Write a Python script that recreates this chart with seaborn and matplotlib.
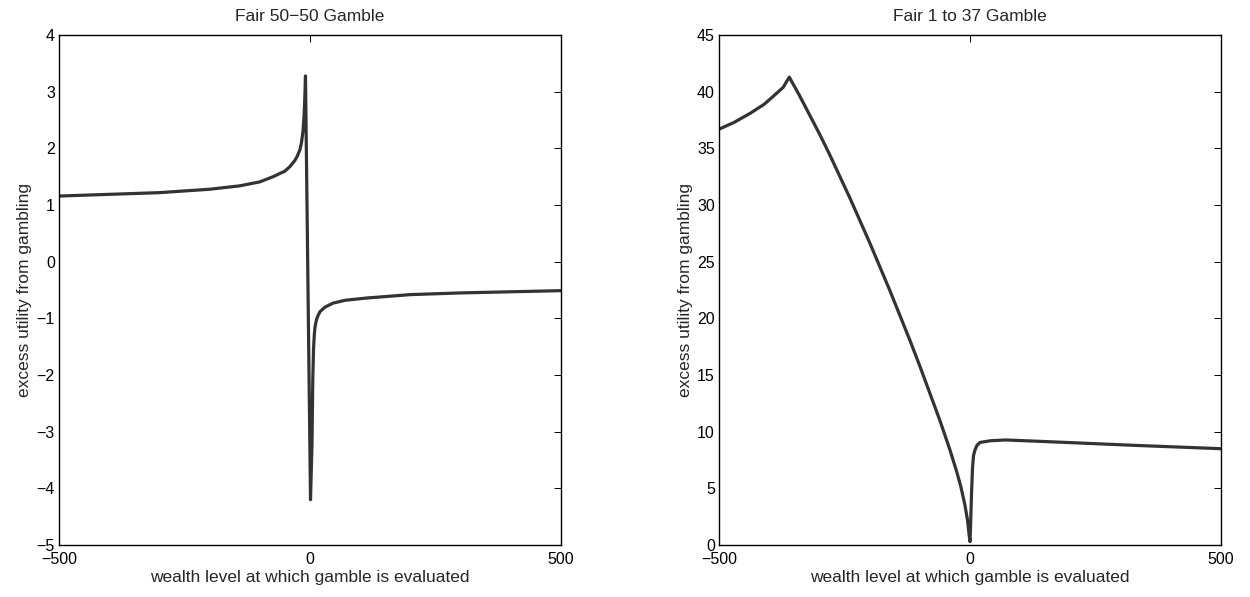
import pandas as pd
import seaborn as sns
import matplotlib.pyplot as plt

# values
# left panel: fair 50-50 gamble
wealth_5050 = [-500, -400, -300, -200, -140, -100, -74, -50, -40, -30, -25, -20, -17, -14, -12, -10.5, -9,
               1, 4, 5.5, 7, 8.5, 10, 13, 16, 20, 30, 46, 70, 113, 200, 300, 400, 500]
excess_5050 = [1.16, 1.19, 1.22, 1.28, 1.34, 1.41, 1.50, 1.60, 1.68, 1.79, 1.87, 1.98, 2.10, 2.30, 2.55, 2.85, 3.28,
               -4.20, -3.20, -2.10, -1.55, -1.30, -1.15, -1.02, -0.95, -0.88, -0.80, -0.73, -0.68, -0.64,
               -0.58, -0.55, -0.53, -0.51]

# right panel: fair 1 to 37 gamble
wealth_137 = [-500, -470, -438, -410, -392, -372, -360, -340, -320, -300, -280, -260, -240, -220, -200,
              -180, -160, -140, -120, -100, -80, -60, -40, -26, -18, -10, -5, -2, 0,
              1, 3, 5, 7, 10, 14, 20, 40, 70, 100, 193, 325, 500]
excess_137 = [36.7, 37.3, 38.1, 38.9, 39.6, 40.4, 41.3, 39.7, 38.0, 36.3, 34.5, 32.6, 30.7, 28.7, 26.7,
              24.6, 22.5, 20.3, 18.1, 15.8, 13.4, 11.0, 8.4, 6.4, 5.1, 3.5, 2.2, 1.0, 0.3,
              1.5, 4.5, 6.8, 7.9, 8.4, 8.8, 9.05, 9.2, 9.27, 9.22, 9.05, 8.8, 8.5]

titles = ['Fair 50\u221250 Gamble', 'Fair 1 to 37 Gamble']
xlabel = 'wealth level at which gamble is evaluated'
ylabel = 'excess utility from gambling'

sns.set_style("white")
plt.rcParams['font.family'] = ['Liberation Sans', 'DejaVu Sans']

fig = plt.figure(figsize=(12.5, 5.97), dpi=100)
ax1 = fig.add_axes([0.0472, 0.0871, 0.4016, 0.854])
ax2 = fig.add_axes([0.5752, 0.0871, 0.4016, 0.854])

panels = [
    (ax1, wealth_5050, excess_5050, (-5, 4), range(-5, 5)),
    (ax2, wealth_137, excess_137, (0, 45), range(0, 46, 5)),
]

for (ax, xs, ys, ylim, yticks), title in zip(panels, titles):
    df = pd.DataFrame({'wealth': xs, 'excess': ys})
    sns.lineplot(data=df, x='wealth', y='excess', ax=ax, color='#333333',
                 linewidth=2.3, estimator=None, sort=False)
    ax.set_xlim(-500, 500)
    ax.set_ylim(*ylim)
    ax.set_xticks([-500, 0, 500])
    ax.set_yticks(list(yticks))
    ax.set_title(title, fontsize=12.5, pad=10)
    ax.set_xlabel(xlabel, fontsize=12.5, labelpad=2)
    ax.set_ylabel(ylabel, fontsize=12.5, labelpad=3)
    ax.tick_params(direction='in', top=True, right=True, length=5, width=0.7,
                   labelsize=11.5, colors='black')
    ax.tick_params(axis='x', pad=5)
    ax.tick_params(axis='y', pad=3)
    for sp in ax.spines.values():
        sp.set_visible(True)
        sp.set_color('black')
        sp.set_linewidth(1.0)

plt.savefig('out.png', dpi=100)
plt.close()
